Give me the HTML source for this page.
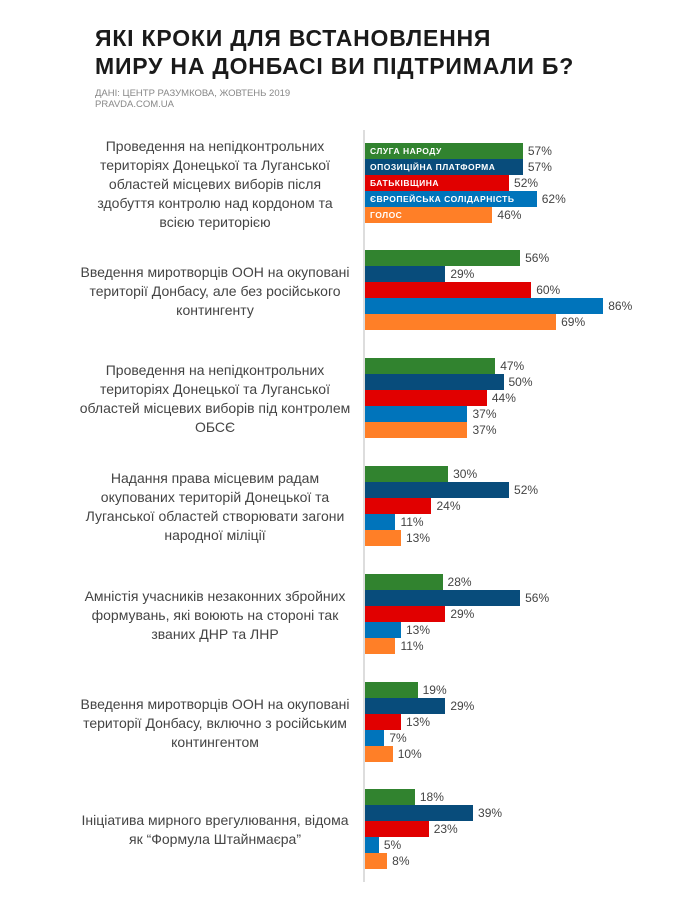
<!DOCTYPE html><html><head><meta charset="utf-8"><style>
body{margin:0;width:690px;height:900px;background:#fff;font-family:"Liberation Sans",sans-serif;position:relative;overflow:hidden}
.t{position:absolute;left:95px;top:24px;font-size:23px;font-weight:bold;line-height:28px;color:#1a1a1a;letter-spacing:0.8px}
.s{position:absolute;left:95px;top:88px;font-size:9.5px;line-height:11px;color:#888}
.ax{position:absolute;left:363px;top:130px;width:2px;height:752px;background:#ddd}
.b{position:absolute;left:365px;height:16px}
.v{position:absolute;font-size:12px;color:#444;line-height:16px}
.bl{position:absolute;left:370px;font-size:8.5px;font-weight:bold;color:#fff;line-height:16px;letter-spacing:0.5px}
.l{position:absolute;left:65px;width:300px;text-align:center;font-size:14px;line-height:19px;color:#444;white-space:nowrap}
</style></head><body>
<div class="t">ЯКІ КРОКИ ДЛЯ ВСТАНОВЛЕННЯ<br>МИРУ НА ДОНБАСІ ВИ ПІДТРИМАЛИ Б?</div>
<div class="s">ДАНІ: ЦЕНТР РАЗУМКОВА, ЖОВТЕНЬ 2019<br>PRAVDA.COM.UA</div>
<div class="ax"></div>
<div id="c"></div>
<script>
var cols=["#31832f","#084c7b","#e10000","#0074bb","#ff7f27"];
var names=["СЛУГА НАРОДУ","ОПОЗИЦІЙНА ПЛАТФОРМА","БАТЬКІВЩИНА","ЄВРОПЕЙСЬКА СОЛІДАРНІСТЬ","ГОЛОС"];
var d=[[57,57,52,62,46],[56,29,60,86,69],[47,50,44,37,37],[30,52,24,11,13],[28,56,29,13,11],[19,29,13,7,10],[18,39,23,5,8]];
var tops=[143,250,358,466,574,682,789];
var labels=[["Проведення на непідконтрольних","територіях Донецької та Луганської","областей місцевих виборів після","здобуття контролю над кордоном та","всією територією"],
["Введення миротворців ООН на окуповані","території Донбасу, але без російського","контингенту"],
["Проведення на непідконтрольних","територіях Донецької та Луганської","областей місцевих виборів під контролем","ОБСЄ"],
["Надання права місцевим радам","окупованих територій Донецької та","Луганської областей створювати загони","народної міліції"],
["Амністія учасників незаконних збройних","формувань, які воюють на стороні так","званих ДНР та ЛНР"],
["Введення миротворців ООН на окуповані","території Донбасу, включно з російським","контингентом"],
["Ініціатива мирного врегулювання, відома","як “Формула Штайнмаєра”"]];
var h="";
d.forEach(function(g,i){
 g.forEach(function(v,j){
  var y=tops[i]+j*16,w=v*2.77;
  h+='<div class="b" style="top:'+y+'px;width:'+w+'px;background:'+cols[j]+'"></div>';
  h+='<div class="v" style="top:'+y+'px;left:'+(365+w+5)+'px">'+v+'%</div>';
  if(i==0)h+='<div class="bl" style="top:'+y+'px">'+names[j]+'</div>';
 });
 var n=labels[i].length;
 var ly=tops[i]+40-n*9.5+1;
 h+='<div class="l" style="top:'+ly+'px">'+labels[i].join("<br>")+'</div>';
});
document.getElementById("c").innerHTML=h;
</script>
</body></html>
